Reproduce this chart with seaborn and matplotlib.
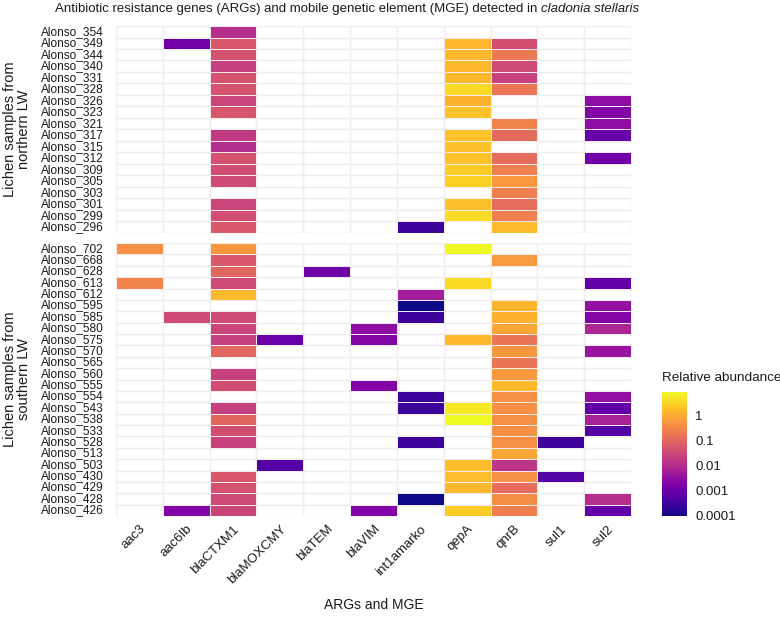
import numpy as np
import pandas as pd
import matplotlib
matplotlib.use("Agg")
import matplotlib.pyplot as plt
from matplotlib.colors import LogNorm
import seaborn as sns

N = np.nan
genes = ["aac3", "aac6Ib", "blaCTXM1", "blaMOXCMY", "blaTEM", "blaVIM",
         "int1amarko", "qepA", "qnrB", "sul1", "sul2"]

north_samples = ["Alonso_354", "Alonso_349", "Alonso_344", "Alonso_340", "Alonso_331",
                 "Alonso_328", "Alonso_326", "Alonso_323", "Alonso_321", "Alonso_317",
                 "Alonso_315", "Alonso_312", "Alonso_309", "Alonso_305", "Alonso_303",
                 "Alonso_301", "Alonso_299", "Alonso_296"]
north_values = [
    [N, N, 0.012, N, N, N, N, N, N, N, N],
    [N, 0.0012, 0.06, N, N, N, N, 1.5, 0.04, N, N],
    [N, N, 0.045, N, N, N, N, 1.5, 0.2, N, N],
    [N, N, 0.022, N, N, N, N, 1.5, 0.035, N, N],
    [N, N, 0.045, N, N, N, N, 1.5, 0.025, N, N],
    [N, N, 0.045, N, N, N, N, 4, 0.18, N, N],
    [N, N, 0.028, N, N, N, N, 1.3, N, N, 0.003],
    [N, N, 0.055, N, N, N, N, 2, N, N, 0.002],
    [N, N, N, N, N, N, N, N, 0.3, N, 0.003],
    [N, N, 0.018, N, N, N, N, 2, 0.12, N, 0.001],
    [N, N, 0.011, N, N, N, N, 2, N, N, N],
    [N, N, 0.045, N, N, N, N, 2, 0.12, N, 0.0012],
    [N, N, 0.04, N, N, N, N, 2.7, 0.25, N, N],
    [N, N, 0.035, N, N, N, N, 3, 0.55, N, N],
    [N, N, N, N, N, N, N, N, 0.25, N, N],
    [N, N, 0.028, N, N, N, N, 2, 0.13, N, N],
    [N, N, 0.04, N, N, N, N, 4, 0.25, N, N],
    [N, N, 0.06, N, N, N, 0.0003, N, 1.6, N, N],
]

south_samples = ["Alonso_702", "Alonso_668", "Alonso_628", "Alonso_613", "Alonso_612",
                 "Alonso_595", "Alonso_585", "Alonso_580", "Alonso_575", "Alonso_570",
                 "Alonso_565", "Alonso_560", "Alonso_555", "Alonso_554", "Alonso_543",
                 "Alonso_538", "Alonso_533", "Alonso_528", "Alonso_513", "Alonso_503",
                 "Alonso_430", "Alonso_429", "Alonso_428", "Alonso_426"]
south_values = [
    [0.45, N, 0.55, N, N, N, N, 9, N, N, N],
    [N, N, 0.06, N, N, N, N, N, 0.6, N, N],
    [N, N, 0.1, N, 0.0012, N, N, N, N, N, N],
    [0.3, N, 0.035, N, N, N, N, 4, N, N, 0.0008],
    [N, N, 1.6, N, N, N, 0.006, N, N, N, N],
    [N, N, N, N, N, N, 0.0001, N, 1.4, N, 0.0035],
    [N, 0.035, 0.035, N, N, N, 0.0003, N, 1.3, N, 0.002],
    [N, N, 0.028, N, N, 0.003, N, N, 0.9, N, 0.008],
    [N, N, 0.022, 0.001, N, 0.002, N, 1.5, 0.18, N, N],
    [N, N, 0.1, N, N, N, N, N, 0.55, N, 0.004],
    [N, N, N, N, N, N, N, N, 0.18, N, N],
    [N, N, 0.025, N, N, N, N, N, 0.6, N, N],
    [N, N, 0.04, N, N, 0.002, N, N, 1.6, N, N],
    [N, N, N, N, N, N, 0.0003, N, 0.45, N, 0.0035],
    [N, N, 0.022, N, N, N, 0.0003, 6, 0.45, N, 0.0008],
    [N, N, 0.1, N, N, N, N, 9, 0.45, N, 0.007],
    [N, N, 0.04, N, N, N, N, N, 0.45, N, 0.0005],
    [N, N, 0.025, N, N, N, 0.0003, N, 0.45, 0.0003, N],
    [N, N, N, N, N, N, N, N, 0.9, N, N],
    [N, N, N, 0.0005, N, N, N, 1.8, 0.015, N, N],
    [N, N, 0.06, N, N, N, N, 1.8, 0.45, 0.0005, N],
    [N, N, 0.045, N, N, N, N, 1.5, 0.13, N, N],
    [N, N, 0.035, N, N, N, 0.0001, N, 0.4, N, 0.012],
    [N, 0.002, 0.028, N, N, 0.002, N, 2.7, 0.25, N, 0.0008],
]

cbar_ticks = [0.0001, 0.001, 0.01, 0.1, 1]
cbar_ticklabels = ["0.0001", "0.001", "0.01", "0.1", "1"]

df_n = pd.DataFrame(north_values, index=north_samples, columns=genes)
df_s = pd.DataFrame(south_values, index=south_samples, columns=genes)

sns.set_theme(style="white")
plt.rcParams["font.family"] = ["Liberation Sans", "DejaVu Sans"]

vmin = np.nanmin([np.nanmin(df_n.values), np.nanmin(df_s.values)])
vmax = np.nanmax([np.nanmax(df_n.values), np.nanmax(df_s.values)])
norm = LogNorm(vmin=vmin, vmax=vmax)

fig = plt.figure(figsize=(7.8, 6.2), dpi=100)
W, H = 780, 620
px_l, px_r = 116, 631
ax_n = fig.add_axes([px_l / W, 1 - 233 / H, (px_r - px_l) / W, (233 - 26) / H])
ax_s = fig.add_axes([px_l / W, 1 - 516 / H, (px_r - px_l) / W, (516 - 243) / H])
cax = fig.add_axes([662 / W, 1 - 516 / H, 25 / W, (516 - 392) / H])

grid_col = "#d4d4d4"
txt_col = "#1a1a1a"
for ax, df in [(ax_n, df_n), (ax_s, df_s)]:
    nr, nc = df.shape
    sns.heatmap(df, ax=ax, cmap="plasma", norm=norm, cbar=False,
                linewidths=0.7, linecolor="#f0ecef")
    ax.hlines(np.arange(nr + 1), 0, nc, color=grid_col, lw=0.9, zorder=0.5)
    ax.vlines(np.arange(nc + 1), 0, nr, color=grid_col, lw=0.9, zorder=0.5)
    ax.set_xlim(0, nc)
    ax.set_ylim(nr, 0)
    ax.tick_params(axis="both", length=0)
    ax.set_yticks(np.arange(nr) + 0.5)
    ax.set_yticklabels(df.index, fontsize=8.6, color=txt_col, rotation=0)
    ax.tick_params(axis="y", pad=8.5)
    for s in ax.spines.values():
        s.set_visible(False)

ax_n.set_xticks([])
ax_n.set_xlabel("")
ax_s.set_xticks(np.arange(len(genes)) + 0.5)
ax_s.set_xticklabels(genes, rotation=45, ha="right", rotation_mode="anchor",
                     fontsize=9.5, color=txt_col)
ax_s.tick_params(axis="x", pad=5)
ax_s.set_xlabel("ARGs and MGE", fontsize=10, color=txt_col)
ax_s.xaxis.set_label_coords(0.5, (516 - 598) / 273)

ax_n.set_ylabel("Lichen samples from\nnorthern LW", fontsize=10.5, linespacing=1.0,
                color=txt_col)
ax_s.set_ylabel("Lichen samples from\nsouthern LW", fontsize=10.5, linespacing=1.0,
                color=txt_col)
ax_n.yaxis.set_label_coords((31 - px_l) / (px_r - px_l), 0.5)
ax_s.yaxis.set_label_coords((31 - px_l) / (px_r - px_l), 0.5)

t1 = fig.text(55 / W, 1 - 9 / H,
              "Antibiotic resistance genes (ARGs) and mobile genetic element (MGE) detected in ",
              ha="left", va="center", fontsize=9.5, color=txt_col)
fig.canvas.draw()
bb = t1.get_window_extent()
fig.text(bb.x1 / W, 1 - 9 / H, "cladonia stellaris", ha="left", va="center",
         fontsize=9.5, style="italic", color=txt_col)

sm = matplotlib.cm.ScalarMappable(norm=norm, cmap="plasma")
cb = fig.colorbar(sm, cax=cax)
cb.outline.set_visible(False)
cb.set_ticks(cbar_ticks)
cb.set_ticklabels(cbar_ticklabels)
cb.minorticks_off()
cax.tick_params(which="major", direction="in", color="white", length=5, width=0.8,
                left=True, right=True, labelsize=9.5, pad=6, labelcolor=txt_col)
cax.tick_params(which="minor", length=0)
cax.set_title("Relative abundance", fontsize=9.7, loc="left", pad=8, color=txt_col)

fig.savefig("out.png", dpi=100)
